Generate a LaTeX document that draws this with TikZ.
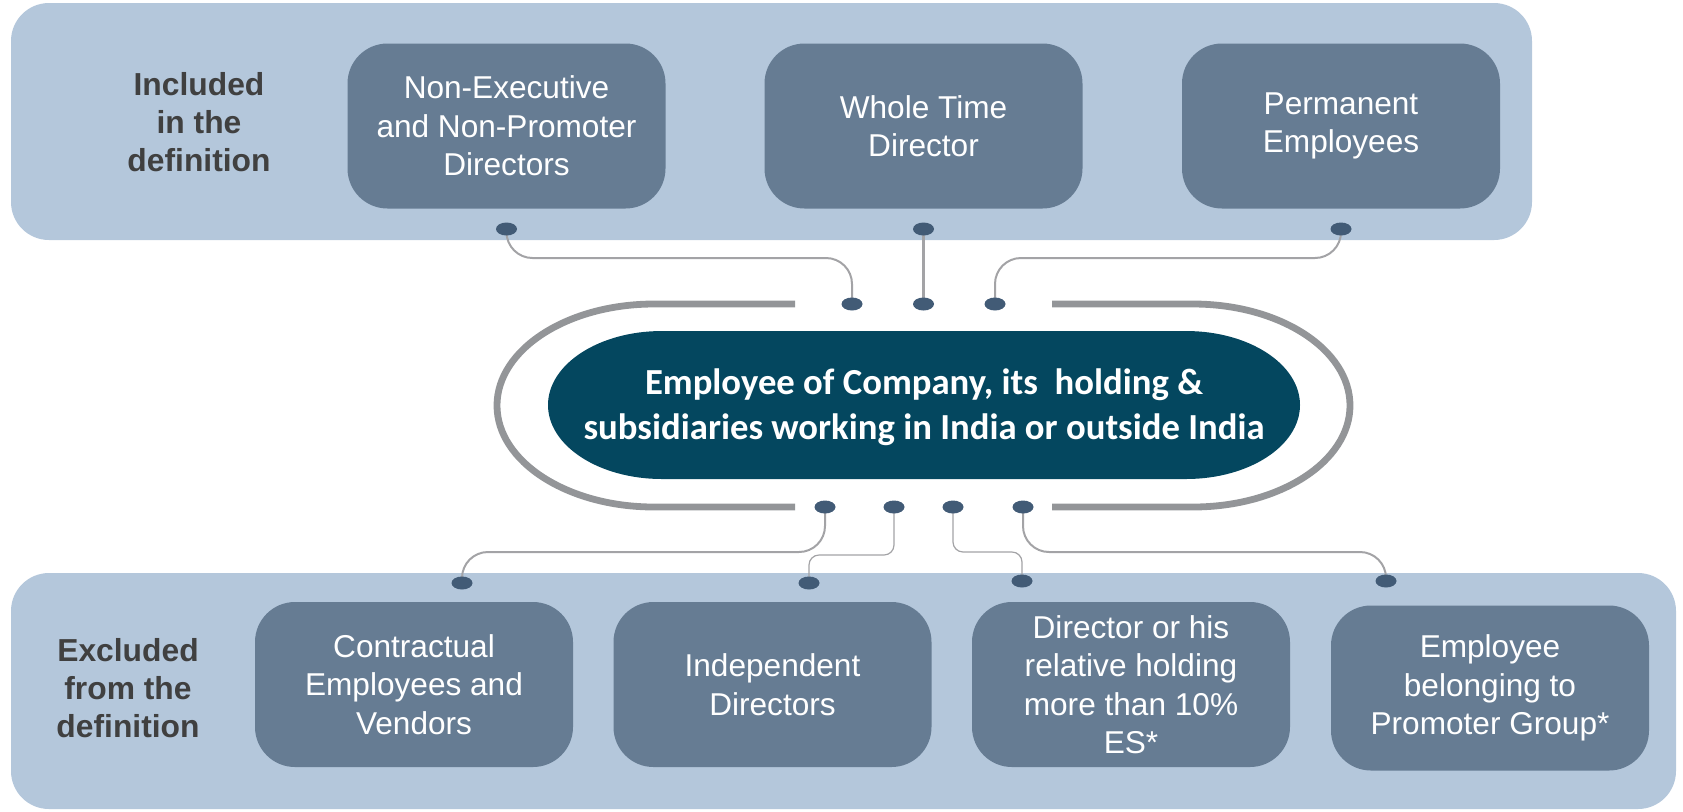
\documentclass[tikz,border=0pt]{standalone}
\usepackage{fontspec}
\setmainfont{Liberation Sans}
\newfontfamily\carlito{Carlito}
\usetikzlibrary{shapes.geometric}
\definecolor{bandc}{HTML}{B4C7DB}
\definecolor{boxc}{HTML}{667C93}
\definecolor{dotc}{HTML}{425B76}
\definecolor{pillc}{HTML}{04475F}
\definecolor{trackc}{HTML}{939598}
\definecolor{connc}{HTML}{A3A3A6}
\definecolor{lblc}{HTML}{404040}
\pgfdeclarelayer{bg}
\pgfsetlayers{bg,main}
\begin{document}
\begin{tikzpicture}[x=0.5pt,y=-0.5pt,
  band/.style={fill=bandc, draw=none, rounded corners=19pt},
  box/.style={fill=boxc, rounded corners=20pt, minimum width=159pt, minimum height=82.5pt, inner sep=0pt, align=center, text=white, font=\fontsize{15.8}{19.25}\selectfont},
  lbl/.style={align=center, text=lblc, font=\bfseries\fontsize{15.9}{19}\selectfont},
  dot/.style={ellipse, fill=dotc, minimum width=10.5pt, minimum height=6.5pt, inner sep=0pt},
  conn/.style={draw=connc, line width=1pt, rounded corners=13pt},
  thinconn/.style={draw=connc, line width=0.6pt, rounded corners=5pt},
  track/.style={draw=trackc, line width=3.4pt},
]
\useasboundingbox (0,0) rectangle (1683,811);

% included boxes
\node[box] (inc1) at (506.5,126) {Non-Executive\\and Non-Promoter\\Directors};
\node[box] (inc2) at (923.5,126) {Whole Time\\Director};
\node[box] (inc3) at (1341,126) {Permanent\\Employees};
\node[lbl] (inclbl) at (199,122) {Included\\in the\\definition};

% excluded boxes
\node[box] (exc1) at (414,684.5) {Contractual\\Employees and\\Vendors};
\node[box] (exc2) at (772.5,684.5) {Independent\\Directors};
\node[box] (exc3) at (1131,684.5) {Director or his\\relative holding\\more than 10\%\\ES*};
\node[box] (exc4) at (1490,688) {Employee\\belonging to\\Promoter Group*};
\node[lbl] (exclbl) at (128,688) {Excluded\\from the\\definition};

% race track
\draw[track] (1052,304) -- (1193,304) arc[start angle=90, end angle=-90, x radius=78.5pt, y radius=50.75pt] -- (1052,507);
\draw[track] (795,304) -- (654,304) arc[start angle=90, end angle=270, x radius=78.5pt, y radius=50.75pt] -- (795,507);

% pill
\fill[pillc] (662,331) -- (1186,331) arc[start angle=90, end angle=-90, x radius=57pt, y radius=37pt] -- (662,479) arc[start angle=270, end angle=90, x radius=57pt, y radius=37pt] -- cycle;
\node[font=\carlito\bfseries\fontsize{18.35}{22.5}\selectfont, text=white, align=center] (core) at (924,407) {Employee of Company, its\ \ holding \&\\subsidiaries working in India or outside India};

% dots
\node[dot] (t1) at (506.5,229) {};
\node[dot] (t2) at (923.5,229) {};
\node[dot] (t3) at (1341,229) {};
\node[dot] (m1) at (852,304) {};
\node[dot] (m2) at (923.5,304) {};
\node[dot] (m3) at (995,304) {};
\node[dot] (l1) at (825,507) {};
\node[dot] (l2) at (894,507) {};
\node[dot] (l3) at (953,507) {};
\node[dot] (l4) at (1023,507) {};
\node[dot] (b1) at (462,583) {};
\node[dot] (b2) at (809,583) {};
\node[dot] (b3) at (1022,581) {};
\node[dot] (b4) at (1386,581) {};

\begin{pgfonlayer}{bg}
  \fill[bandc, rounded corners=19pt] (11,3) rectangle (1532,240);
  \fill[bandc, rounded corners=19pt] (11,573) rectangle (1676,809);
  \draw[conn] (t1.center) -- ++(0,29) -| (m1.center);
  \draw[conn] (t3.center) -- ++(0,29) -| (m3.center);
  \draw[conn, line width=1.2pt] (t2.center) -- (m2.center);
  \draw[conn] (l1.center) -- ++(0,45) -| (b1.center);
  \draw[thinconn] (l2.center) -- ++(0,48) -| (b2.center);
  \draw[thinconn] (l3.center) -- ++(0,45) -| (b3.center);
  \draw[conn] (l4.center) -- ++(0,45) -| (b4.center);
\end{pgfonlayer}
\end{tikzpicture}
\end{document}
